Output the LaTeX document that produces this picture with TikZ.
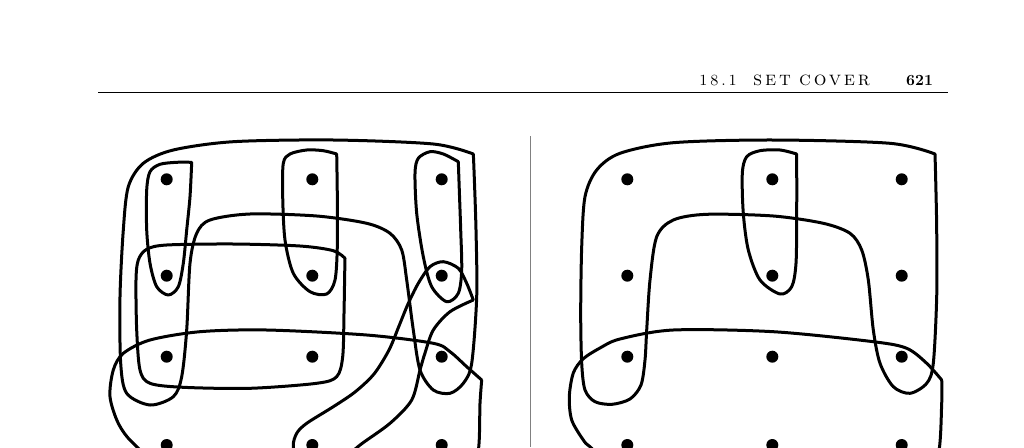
\documentclass[tikz,border=0pt]{standalone}
\usepackage{fontspec}
\newfontfamily\headnum{lmromancaps10-regular}[Extension=.otf,LetterSpace=15]
\newfontfamily\headsc{lmromancaps10-regular}[Extension=.otf,LetterSpace=14]
\newfontfamily\headbf{lmroman10-bold}[Extension=.otf]

\tikzset{
  elem/.style={circle, fill, inner sep=0pt, minimum size=12pt},
  cover/.style={line width=3pt, line cap=round, line join=round},
  head/.style={inner sep=0pt, anchor=base west},
}

\begin{document}
\begin{tikzpicture}[x=1pt, y=-1pt]
  \useasboundingbox (0,0) rectangle (1024,447);
  \clip (0,0) rectangle (1024,447);

  % Running head
  \node[head, font=\headnum\fontsize{15.5}{18}\selectfont] (secnum) at (699,85.3) {18.1};
  \node[head, font=\headsc\fontsize{20}{24}\selectfont] (secset) at (753,85.3) {set};
  \node[head, font=\headsc\fontsize{20}{24}\selectfont] (seccov) at (799,85.3) {cover};
  \node[head, font=\headbf\fontsize{15.5}{18}\selectfont] (page) at (906,85.3) {621};
  \coordinate (ruleL) at (98,92.3);
  \coordinate (ruleR) at (948,92.3);
  \draw[line width=1.1pt] (ruleL) -- (ruleR);

  % Divider
  \coordinate (divT) at (530.7,136);
  \coordinate (divB) at (530.7,447);
  \draw[gray, line width=1pt] (divT) -- (divB);

  % Elements
  \foreach \x [count=\i] in {166.7,312.3,441.7}
    \foreach \y [count=\j] in {179.3,275.7,356.7,445}
      \node[elem] (a\i\j) at (\x,\y) {};
  \foreach \x [count=\i] in {627.3,772.3,901.7}
    \foreach \y [count=\j] in {179.3,275.7,356.7,445}
      \node[elem] (b\i\j) at (\x,\y) {};

  % Left: greedy choice
  \draw[cover] plot[smooth] coordinates {(473.3,154) (433.3,144) (333.3,140)
    (233.3,141.7) (173.3,150) (143.3,163.3) (128.3,186.7) (123.3,230)
    (120,296.7) (120.7,363.3) (126.7,393.3) (150,405) (173.3,396.7)
    (181.7,376.7) (186.7,330) (190,263.3) (196.7,233.3) (210,220) (250,214)
    (316.7,216) (366.7,223.3) (390,233.3) (401.7,250) (406.7,280) (413.3,330)
    (420,370) (433.3,390) (450,393.3) (463.3,383.3) (471.7,363.3)
    (476.7,296.7) (476,230) (474,170) (473.3,154)};
  \draw[cover] plot[smooth] coordinates {(481.7,380) (466.7,366.7) (450,351.7)
    (433.3,343.3) (366.7,335) (266.7,330) (200,331.7) (150,340) (123.3,353.3)
    (113.3,370) (110,396.7) (118.3,423.3) (133.3,443.3) (165,465) (260,478)
    (400,478) (465,468) (478,452) (480,403.3) (481.7,380)};
  \draw[cover] plot[smooth] coordinates {(191.7,162.3) (176.7,162.3) (160,164.3)
    (150,171.7) (146.7,190) (146.7,230) (150,263.3) (156.7,286.7) (168.3,295)
    (178.3,286.7) (183.3,263.3) (186.7,230) (190,196.7) (191.7,162.3)};
  \draw[cover] plot[smooth] coordinates {(336.7,154) (323.3,150.7) (306.7,150)
    (290,154) (283.3,163.3) (282.7,196.7) (285,240) (293.3,273.3) (310,291.7)
    (326.7,294) (335,280) (337.3,246.7) (337.3,196.7) (336.7,154)};
  \draw[cover] plot[smooth] coordinates {(458.3,161.7) (443.3,154) (430,151.7)
    (418.3,158.3) (415,173.3) (416.7,213.3) (423.3,256.7) (431.7,286.7)
    (446.7,301.7) (458.3,293.3) (461.7,270) (460.7,230) (459.3,190)
    (458.3,161.7)};
  \draw[cover] plot[smooth] coordinates {(345,258.3) (333.3,250.7) (300,246)
    (233.3,244) (166.7,245) (146.7,249.3) (138.3,260) (136,280) (136.7,330)
    (140,370) (150,383.3) (183.3,387.3) (250,388.3) (316.7,383.3)
    (336.7,376.7) (342.7,356.7) (344,313.3) (344.7,273.3) (345,258.3)};
  \draw[cover] plot[smooth] coordinates {(473.3,300) (466.7,283.3) (458.3,268.3)
    (443.3,261.7) (430,266.7) (418.3,283.3) (408,304) (399,326) (389,350)
    (374,374) (355,392) (333.3,406.7) (306.7,423.3) (296.7,433.3)
    (293.3,446.7) (300,466) (318,472) (340,462) (360,445) (390,423.3)
    (411.7,400) (420,370) (425,353) (433.3,330) (450,311.7) (473.3,300)};

  % Right: optimal choice
  \draw[cover] plot[smooth] coordinates {(935,154) (890,143.3) (773.3,140)
    (673.3,142.7) (620,153.3) (596.7,170) (585,196.7) (581.7,246.7)
    (580.7,313.3) (581.7,363.3) (585,390) (595,401.7) (612,404.3)
    (630,399) (641,385) (645,360) (646.7,330) (650,280) (656.7,236.7)
    (673.3,220) (706.7,214.3) (773.3,216) (823.3,223.3) (850,233.3)
    (861.7,250) (868.3,280) (873.3,330) (880,363.3) (893.3,386.7) (910,393.3)
    (926.7,383.3) (933.3,363.3) (936.7,296.7) (936.7,230) (935.7,180)
    (935,154)};
  \draw[cover] plot[smooth] coordinates {(941.7,380) (926.7,363.3) (906.7,348.3)
    (873.3,341.7) (773.3,331.7) (673.3,330) (620,339) (600,348) (583,359)
    (573.3,373) (569.3,396.7) (571.7,420) (583.3,440) (590,446.7) (615,465)
    (700,478) (850,478) (920,468) (938,455) (941.7,403.3) (941.7,380)};
  \draw[cover] plot[smooth] coordinates {(796.7,154) (780,150) (760,150.7)
    (746.7,156.7) (742.3,173.3) (743.3,213.3) (748.3,250) (760,280) (780,294)
    (791.7,286.7) (796,263.3) (796.7,213.3) (796.7,154)};
\end{tikzpicture}
\end{document}
